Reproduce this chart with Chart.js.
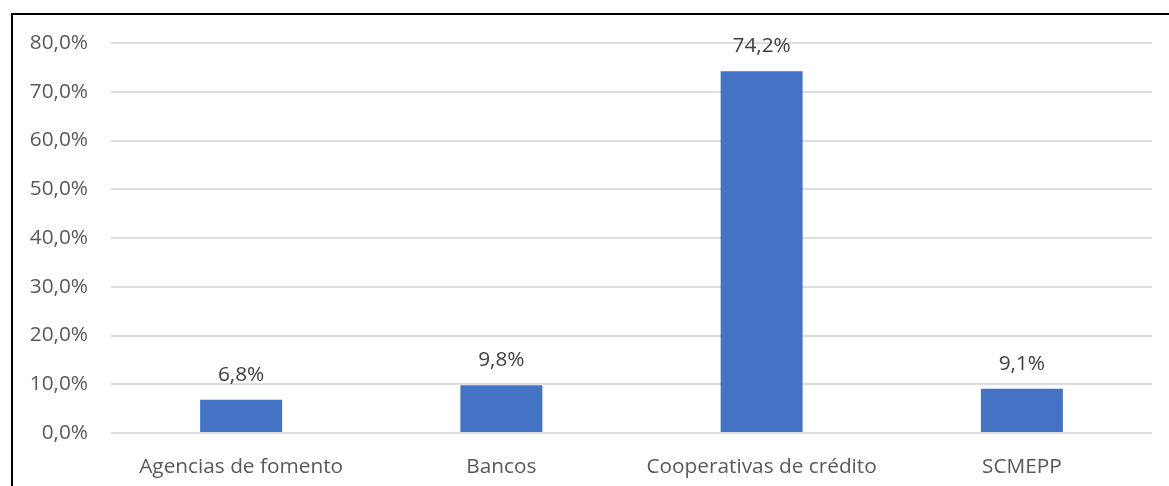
<!DOCTYPE html>
<html>
<head>
<meta charset="utf-8">
<script src="https://cdn.jsdelivr.net/npm/chart.js@4"></script>
<style>
  html, body { margin: 0; padding: 0; background: #fff; overflow: hidden; }
  #wrap { position: relative; width: 1169px; height: 486px; }
  #frame { position: absolute; left: 11px; top: 13px; right: -10px; bottom: -10px;
           border-left: 2px solid #000; border-top: 2px solid #000; pointer-events: none; }
  canvas { position: absolute; left: 0; top: 0; }
</style>
</head>
<body>
<div id="wrap">
  <canvas id="grafico" width="1169" height="486"></canvas>
  <div id="frame"></div>
</div>
<script>
// Catégories et parts (%)
const categorias = ['Agencias de fomento', 'Bancos', 'Cooperativas de crédito', 'SCMEPP'];
const participacao = [6.8, 9.8, 74.2, 9.1];
const yMax = 80;
const yPasso = 10;

const fonte = "'Open Sans', 'Noto Sans', sans-serif";
const taille = 20.8;

// Format à la virgule décimale
function formatPct(v, dec) {
    return v.toFixed(dec).replace('.', ',') + '%';
}

// Étiquettes de valeur au-dessus des barres
const etiquettesPlugin = {
    id: 'etiquettes',
    afterDatasetsDraw(chart) {
        const ctx = chart.ctx;
        const meta = chart.getDatasetMeta(0);
        ctx.save();
        ctx.font = taille + 'px ' + fonte;
        ctx.fillStyle = '#404040';
        ctx.textAlign = 'center';
        ctx.textBaseline = 'middle';
        meta.data.forEach((bar, i) => {
            ctx.fillText(formatPct(participacao[i], 1), bar.x, bar.y - 25);
        });
        ctx.restore();
    }
};

const ctx = document.getElementById('grafico').getContext('2d');
const grafico = new Chart(ctx, {
    type: 'bar',
    data: {
        labels: categorias,
        datasets: [{
            data: participacao,
            backgroundColor: '#4472C4',
            borderWidth: 0,
            categoryPercentage: 1,
            barPercentage: 0.315
        }]
    },
    options: {
        responsive: false,
        animation: false,
        layout: { padding: { top: 43, right: 17, left: 0, bottom: 0 } },
        plugins: {
            legend: { display: false },
            tooltip: { enabled: false }
        },
        scales: {
            x: {
                grid: { display: false },
                border: { display: false },
                ticks: {
                    color: '#595959',
                    font: { family: fonte, size: taille, lineHeight: 1.2 },
                    padding: 14,
                    maxRotation: 0
                },
                afterFit(scale) { scale.height = 53; }
            },
            y: {
                min: 0,
                max: yMax,
                grid: { color: '#dedede', lineWidth: 2, drawTicks: false },
                border: { display: false },
                ticks: {
                    stepSize: yPasso,
                    color: '#595959',
                    font: { family: fonte, size: taille },
                    padding: 23,
                    callback: v => formatPct(v, 1)
                },
                afterFit(scale) { scale.width = 111; }
            }
        }
    },
    plugins: [etiquettesPlugin]
});
</script>
</body>
</html>
